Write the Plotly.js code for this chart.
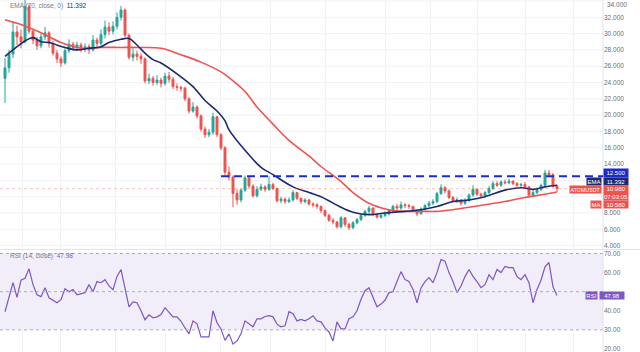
<!DOCTYPE html>
<html><head><meta charset="utf-8">
<script src="https://cdn.plot.ly/plotly-3.0.1.min.js"></script>
<style>html,body{margin:0;padding:0;background:#fff;}#chart{width:640px;height:352px;}</style>
</head><body><div id="chart"></div>
<script>
// ---- data (ATOM/USDT daily) ----
const openP = [24.5,25.8,27.5,30.2,29.6,29.0,33.3,30.3,29.2,28.5,
29.6,30.1,28.8,27.6,26.9,26.4,27.9,28.7,28.3,28.6,
28.1,28.4,28.0,29.2,28.8,29.9,30.8,30.3,30.9,32.0,
32.9,29.8,27.1,27.5,27.2,26.9,24.2,24.5,24.0,24.3,
23.9,24.8,24.4,23.5,23.4,23.3,22.0,20.5,21.0,19.9,
18.3,17.6,17.9,19.8,17.6,16.0,13.0,12.4,10.4,9.6,
10.8,12.3,11.3,10.1,10.9,11.2,10.9,11.5,11.0,9.5,
9.7,9.4,9.6,10.5,9.8,9.4,9.6,9.1,9.0,8.8,
8.3,7.7,7.1,6.9,6.3,7.4,6.6,6.2,6.8,7.2,
7.7,8.2,8.6,7.8,7.5,7.7,7.9,8.3,8.8,8.6,
9.0,8.9,8.8,8.3,7.9,8.5,8.9,9.2,9.4,10.4,
11.1,10.7,9.9,9.5,9.6,9.2,9.5,10.2,10.9,10.3,
10.1,10.5,11.0,11.6,11.4,11.8,11.7,11.9,11.6,11.4,
11.5,11.2,10.2,10.5,10.9,11.4,12.9,12.7,11.3];
const highP = [27.0,28.0,31.5,31.0,30.5,34.3,33.6,30.6,29.6,30.0,
30.8,30.3,29.1,28.0,27.2,28.2,29.3,29.0,29.0,28.9,
28.8,28.7,29.8,29.5,30.5,31.6,31.4,31.5,32.6,33.4,
33.1,30.0,28.2,27.9,27.6,27.1,25.1,24.8,24.9,24.6,
25.2,25.3,24.7,23.9,23.6,23.5,22.2,21.6,21.2,20.1,
18.6,18.3,20.3,19.9,17.8,16.2,13.7,12.6,10.9,11.0,
12.6,12.5,11.5,11.3,11.6,11.4,12.5,11.7,11.1,10.0,
9.9,9.9,10.8,10.6,9.9,9.8,9.7,9.3,9.2,8.9,
8.4,7.9,7.4,7.0,7.6,7.5,6.8,7.0,7.4,7.9,
8.4,8.9,8.7,8.0,7.9,8.2,8.5,9.0,9.1,9.4,
9.2,9.1,8.9,8.4,8.7,9.1,9.5,9.7,10.6,11.5,
11.3,10.9,10.1,9.9,9.7,9.8,10.4,11.4,11.0,10.5,
10.7,11.3,11.9,11.9,12.0,12.1,12.2,12.0,11.8,11.7,
11.8,11.3,10.8,11.1,11.6,13.3,13.3,12.9,11.5];
const lowP = [21.5,25.2,27.0,28.6,28.2,28.8,30.0,28.7,28.0,28.2,
29.2,28.3,27.3,26.4,25.9,26.2,27.6,27.9,27.9,27.7,
27.7,27.5,27.8,28.3,28.5,29.4,29.8,29.9,30.5,31.6,
29.5,26.8,26.6,26.7,26.3,23.9,23.8,23.6,23.7,23.4,
23.6,24.0,23.2,23.0,22.9,21.7,20.2,20.3,19.6,18.0,
17.2,17.3,17.6,17.3,15.7,12.6,12.0,8.7,9.0,9.3,
10.6,11.0,9.9,9.9,10.7,10.6,10.7,10.8,9.3,9.2,
9.1,9.2,9.4,9.6,9.1,9.2,8.9,8.7,8.5,8.0,
7.5,6.9,6.6,6.1,6.1,6.3,5.9,6.0,6.6,7.0,
7.5,7.9,7.6,7.3,7.3,7.5,7.7,8.1,8.3,8.4,
8.6,8.5,8.1,7.6,7.8,8.3,8.7,9.0,9.2,10.2,
10.4,9.7,9.3,9.2,8.9,9.0,9.4,10.0,10.1,9.9,
9.9,10.3,10.8,11.2,11.2,11.5,11.5,11.4,11.2,11.2,
11.0,9.9,10.0,10.3,10.7,11.2,12.4,11.1,10.6];
const closeP = [25.8,27.5,30.2,29.6,29.0,33.3,30.3,29.2,28.5,29.6,
30.1,28.8,27.6,26.9,26.4,27.9,28.7,28.3,28.6,28.1,
28.4,28.0,29.2,28.8,29.9,30.8,30.3,30.9,32.0,32.9,
29.8,27.1,27.5,27.2,26.9,24.2,24.5,24.0,24.3,23.9,
24.8,24.4,23.5,23.4,23.3,22.0,20.5,21.0,19.9,18.3,
17.6,17.9,19.8,17.6,16.0,13.0,12.4,10.4,9.6,10.8,
12.3,11.3,10.1,10.9,11.2,10.9,11.5,11.0,9.5,9.7,
9.4,9.6,10.5,9.8,9.4,9.6,9.1,9.0,8.8,8.3,
7.7,7.1,6.9,6.3,7.4,6.6,6.2,6.8,7.2,7.7,
8.2,8.6,7.8,7.5,7.7,7.9,8.3,8.8,8.6,9.0,
8.9,8.8,8.3,7.9,8.5,8.9,9.2,9.4,10.4,11.1,
10.7,9.9,9.5,9.6,9.2,9.5,10.2,10.9,10.3,10.1,
10.5,11.0,11.6,11.4,11.8,11.7,11.9,11.6,11.4,11.5,
11.2,10.2,10.5,10.9,11.4,12.9,12.7,11.3,10.98];
// EMA(20) read at selected bars
const emaDay = [0,3,5,7,9,11,15,18,21,24,26,29,31,33,35,37,39,44,47,50,53,55,56,60,64,67,72,76,79,84,87,91,95,100,104,108,112,116,120,125,129,132,135,138];
const emaVal = [27.2,28.4,29.1,29.5,29.0,28.9,28.3,28.0,28.2,28.4,28.9,29.3,29.4,28.6,27.6,26.8,26.4,24.7,23.5,21.8,20.5,19.3,18.2,15.7,13.6,12.7,11.2,10.5,10.0,8.7,8.1,7.8,8.0,8.2,8.4,8.8,9.4,9.6,10.0,10.8,11.1,10.9,11.2,11.392];
// MA(50) read at selected bars
const maDay = [0,4,9,14,19,24,29,34,39,44,49,54,56,60,63,67,71,76,79,84,87,91,96,100,104,108,112,116,120,125,130,135,138];
const maVal = [31.7,31.1,30.1,28.9,28.2,28.3,28.3,28.3,28.2,27.4,26.5,25.3,24.6,22.9,21.0,18.9,16.9,15.0,13.7,11.85,10.5,9.2,8.4,8.2,8.2,8.2,8.4,8.7,9.0,9.4,9.9,10.3,10.58];
// RSI(14)
const rsiVal = [39.5,47,54.7,47,56,57,62,53.7,48.4,47.4,
52.1,46.8,45.5,44.2,45.8,51.6,50,51.1,48.4,48.8,
49.5,53.7,50,55.3,54.7,56.3,53,51.1,58,61.6,
52,42.1,44.7,44.2,40,35.3,37.9,36.3,36.8,38,
41.6,39,36.8,36.8,34.5,31,27.9,34.7,33.2,26.3,
26.3,26.3,40,33.7,30.5,24.5,27.9,22.6,24.2,27.9,
34.7,33.2,31.6,35.8,35.8,37,37.4,36.8,33,31.6,
32.1,39.5,38.4,34.7,35.5,34.7,35.8,37.4,34.7,34.2,
31,28.9,24.2,34.2,30.5,30.5,35.8,36.8,40,46,
50.5,52.1,47.4,42.1,43.5,45.5,49.5,50,55.3,60.5,
56.3,55.3,51.1,44.2,52,55.3,57.4,54.7,60,66.8,
66,60,55.3,49.5,53,57.9,61.6,58,55.3,52.1,
53.7,58.9,56.3,61.6,60,63.2,62.6,62.6,57.9,56.3,
58.9,54.7,44.2,51.1,56,63,65.3,52.6,47.98];
// price-scale labels that stay visible (10 and 12 sit under the value boxes)
const priceTicks = [4,6,8,14,16,18,20,22,24,26,28,30,32];
const priceGrid = [4,6,8,10,12,14,16,18,20,22,24,26,28,30,32,34];
const topTick = 34;
const rsiTicks = [20,30,40,60,70];
const gridDays = [4.25,13.75,27.5,40,53.75,66.25,80,95,106.25,118,130,142];
const resistance = 12.5;
const lastClose = 10.98, lastEma = 11.392, lastMa = 10.58, lastRsi = 47.98;

const day = closeP.map((_, i) => i);
const FONT = 'Liberation Sans, Arial, sans-serif';
const PW = 603;                 // plot-area width in px (paper x = 1)
const py = y => 1 - y / 352;    // pixel row -> paper y
const pxx = x => x / PW;        // pixel column -> paper x

const traces = [
  {type:'candlestick', x:day, open:openP, high:highP, low:lowP, close:closeP,
   xaxis:'x', yaxis:'y', whiskerwidth:0,
   increasing:{line:{color:'#26a69a', width:1}, fillcolor:'#26a69a'},
   decreasing:{line:{color:'#ef5350', width:1}, fillcolor:'#ef5350'},
   hoverinfo:'skip'},
  {type:'scatter', mode:'lines', x:maDay, y:maVal, xaxis:'x', yaxis:'y',
   line:{color:'#ef5350', width:1.6, shape:'spline', smoothing:1}, hoverinfo:'skip'},
  {type:'scatter', mode:'lines', x:emaDay, y:emaVal, xaxis:'x', yaxis:'y',
   line:{color:'#1c2a70', width:1.6, shape:'spline', smoothing:1}, hoverinfo:'skip'},
  {type:'scatter', mode:'lines', x:day, y:rsiVal, xaxis:'x', yaxis:'y2',
   line:{color:'#7e57c2', width:1.2}, hoverinfo:'skip'}
];

const shapes = [
  {type:'rect', xref:'x domain', x0:0, x1:1, yref:'y2', y0:30, y1:70, fillcolor:'rgba(126,87,194,0.10)', line:{width:0}, layer:'below'},
  ...[70,50,30].map(v => ({type:'line', xref:'x domain', x0:0, x1:1, yref:'y2', y0:v, y1:v, line:{color:'#a9acb6', width:1, dash:'3px,3px'}})),
  ...priceGrid.map(v => ({type:'line', xref:'x domain', x0:0, x1:1, yref:'y', y0:v, y1:v, line:{color:'#f0f2f7', width:1}, layer:'below'})),
  {type:'line', xref:'paper', x0:0, x1:pxx(640), yref:'paper', y0:py(249.5), y1:py(249.5), line:{color:'#e0e3eb', width:1}},
  {type:'line', xref:'paper', x0:1, x1:1, yref:'paper', y0:0, y1:1, line:{color:'#e0e3eb', width:1}},
  {type:'line', xref:'x domain', x0:0, x1:1, yref:'y', y0:lastClose, y1:lastClose, line:{color:'rgba(239,83,80,0.35)', width:1, dash:'dot'}},
  {type:'line', xref:'x', x0:54, x1:149.5, yref:'y', y0:resistance, y1:resistance, line:{color:'#1f2bc9', width:2, dash:'8px,5px'}}
];

const lbl = (text, xp, xanchor, yc, w, h, bg, size) => ({
  text:text, xref:'paper', yref:'paper', x:pxx(xp), y:py(yc), xanchor:xanchor, yanchor:'middle',
  showarrow:false, bgcolor:bg, borderpad:0, width:w, height:h, align:'center',
  font:{family:FONT, size:size || 6, color:'#ffffff'}
});

const annotations = [
  {text:topTick.toFixed(3), xref:'paper', yref:'paper', x:pxx(606), y:1, xanchor:'left', yanchor:'top',
   showarrow:false, borderpad:0, font:{family:FONT, size:6.5, color:'#6a6d78'}},
  lbl(resistance.toFixed(3), 603, 'left', 173, 24, 8, '#1f2bc9'),
  lbl('EMA', 602, 'right', 181, 14, 7, '#1c2a70'),
  lbl(lastEma.toFixed(3), 603, 'left', 181, 24, 7, '#1c2a70'),
  lbl('ATOMUSDT', 602, 'right', 189, 31, 7, '#ef5350', 5.3),
  lbl(lastClose.toFixed(3) + '<br>07:03:05', 603, 'left', 192.5, 24, 14, '#ef5350'),
  lbl('MA', 602, 'right', 204, 10, 7, '#ef5350'),
  lbl(lastMa.toFixed(3), 603, 'left', 204, 24, 7, '#ef5350'),
  lbl('RSI', 598, 'right', 295.5, 11, 7, '#7e57c2'),
  lbl(lastRsi.toFixed(2), 599, 'left', 295.5, 24, 7, '#7e57c2'),
  {text:'<span style="color:#787b86">EMA (20, close, 0)</span>  <span style="color:#1c2a70">' + lastEma.toFixed(3) + '</span>',
   xref:'paper', yref:'paper', x:pxx(8), y:py(6), xanchor:'left', yanchor:'middle', showarrow:false,
   font:{family:FONT, size:6.5}},
  {text:'<span style="color:#787b86">RSI (14, close)</span>  <span style="color:#7e57c2">' + lastRsi.toFixed(2) + '</span>',
   xref:'paper', yref:'paper', x:pxx(8), y:py(255.5), xanchor:'left', yanchor:'middle', showarrow:false,
   font:{family:FONT, size:6.5}}
];

const layout = {
  width:640, height:352, margin:{l:0, r:37, t:0, b:0},
  paper_bgcolor:'#ffffff', plot_bgcolor:'#ffffff', showlegend:false,
  font:{family:FONT, size:6.5, color:'#6a6d78'},
  xaxis:{range:[-1.25,149.5], rangeslider:{visible:false}, showticklabels:false, ticks:'',
         tickmode:'array', tickvals:gridDays, showgrid:true, gridcolor:'#f0f2f7', gridwidth:1,
         zeroline:false, showline:false, fixedrange:true},
  yaxis:{domain:[py(249.5),1], range:[3.52,34.12], side:'right', anchor:'x',
         tickmode:'array', tickvals:priceTicks, tickformat:'.3f', ticks:'', ticklabeloverflow:'allow',
         tickfont:{family:FONT, size:6.5, color:'#6a6d78'},
         showgrid:false, zeroline:false, showline:false, fixedrange:true},
  yaxis2:{domain:[0,py(249.5)], range:[18.4,72.1], side:'right', anchor:'x',
         tickmode:'array', tickvals:rsiTicks, tickformat:'.2f', ticks:'', ticklabeloverflow:'allow',
         tickfont:{family:FONT, size:6.5, color:'#6a6d78'},
         showgrid:false, zeroline:false, showline:false, fixedrange:true},
  shapes:shapes, annotations:annotations
};

Plotly.newPlot('chart', traces, layout, {staticPlot:true, displayModeBar:false});
</script></body></html>
